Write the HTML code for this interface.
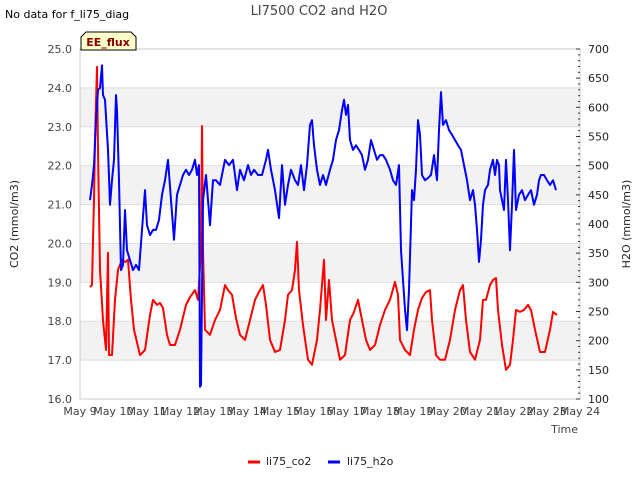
<!DOCTYPE html>
<html><head><meta charset="utf-8"><style>
body{margin:0;background:#fff;font-family:"Liberation Sans",sans-serif}
svg text{font-family:"DejaVu Sans","Liberation Sans",sans-serif}
</style></head><body>
<svg id="c" width="640" height="480" xmlns="http://www.w3.org/2000/svg">
<text x="5" y="18" font-size="11" fill="#000">No data for f_li75_diag</text>
<text x="319" y="15" font-size="13" fill="#444" text-anchor="middle">LI7500 CO2 and H2O</text>
<g id="plot"></g>
<g>
<path d="M81,50 L81,37 L86,32 L131,32 L136,37 L136,50 Z" fill="#ffffcc" stroke="#000" stroke-width="1"/>
<text x="108" y="46" font-size="11" font-weight="bold" fill="#8b0000" text-anchor="middle">EE_flux</text>
</g>
<text x="18" y="224" font-size="11" fill="#222" text-anchor="middle" transform="rotate(-90 18 224)">CO2 (mmol/m3)</text>
<text x="630" y="224" font-size="11" fill="#222" text-anchor="middle" transform="rotate(-90 630 224)">H2O (mmol/m3)</text>
<text x="578" y="433" font-size="11" fill="#444" text-anchor="end">Time</text>
<g>
<g><line x1="248" y1="462" x2="260" y2="462" stroke="#f00" stroke-width="3"/><text x="266" y="465" font-size="11" fill="#222">li75_co2</text></g>
<g><line x1="328" y1="462" x2="340" y2="462" stroke="#00f" stroke-width="3"/><text x="347" y="465" font-size="11" fill="#222">li75_h2o</text></g>
</g>
</svg>
<script>
const coTimes=[9.30,9.36,9.39,9.42,9.45,9.51,9.54,9.60,9.69,9.78,9.84,9.87,9.96,10.05,10.14,10.26,10.35,10.44,10.53,10.62,10.80,10.95,11.10,11.19,11.31,11.40,11.49,11.61,11.70,11.85,12.00,12.18,12.30,12.45,12.54,12.63,12.66,12.69,12.75,12.90,13.05,13.20,13.35,13.44,13.56,13.68,13.80,13.95,14.10,14.25,14.40,14.49,14.58,14.70,14.85,15.00,15.15,15.24,15.36,15.45,15.51,15.57,15.69,15.84,15.96,16.11,16.20,16.32,16.38,16.47,16.56,16.68,16.80,16.95,17.10,17.22,17.34,17.46,17.58,17.70,17.85,18.00,18.15,18.30,18.45,18.54,18.60,18.75,18.90,19.02,19.14,19.26,19.38,19.50,19.56,19.68,19.80,19.95,20.10,20.25,20.40,20.49,20.58,20.70,20.85,21.00,21.09,21.18,21.30,21.39,21.48,21.54,21.66,21.78,21.90,21.99,22.08,22.20,22.32,22.44,22.53,22.65,22.80,22.95,23.10,23.19,23.31];
const coValues=[18.88,18.93,20.09,21.12,22.66,24.54,22.40,19.32,18.03,17.26,19.76,17.13,17.13,18.55,19.32,19.58,19.52,19.58,18.55,17.78,17.13,17.26,18.16,18.55,18.42,18.47,18.34,17.65,17.39,17.39,17.78,18.42,18.62,18.80,18.55,19.83,23.02,19.83,17.78,17.65,18.03,18.29,18.93,18.80,18.68,18.08,17.65,17.52,18.03,18.55,18.80,18.93,18.42,17.52,17.21,17.26,18.03,18.68,18.80,19.32,20.04,18.80,17.90,17.01,16.88,17.52,18.29,19.58,18.03,19.06,18.03,17.52,17.01,17.13,18.03,18.24,18.55,18.03,17.52,17.26,17.39,17.90,18.29,18.55,19.01,18.68,17.52,17.26,17.13,17.78,18.29,18.60,18.75,18.80,18.03,17.13,17.01,17.01,17.52,18.29,18.80,18.93,18.03,17.21,17.01,17.52,18.55,18.55,18.93,19.06,19.11,18.29,17.39,16.75,16.88,17.52,18.29,18.24,18.29,18.42,18.29,17.78,17.21,17.21,17.78,18.24,18.16];
const h2oTimes=[9.30,9.36,9.42,9.48,9.54,9.60,9.66,9.69,9.75,9.84,9.90,9.96,10.02,10.08,10.11,10.17,10.23,10.29,10.35,10.41,10.50,10.59,10.68,10.77,10.86,10.95,11.01,11.10,11.19,11.28,11.37,11.46,11.55,11.64,11.73,11.82,11.91,12.00,12.09,12.18,12.27,12.36,12.45,12.51,12.57,12.60,12.63,12.69,12.78,12.90,12.99,13.08,13.20,13.35,13.47,13.59,13.71,13.80,13.92,14.04,14.13,14.22,14.34,14.46,14.58,14.64,14.73,14.85,14.97,15.06,15.15,15.24,15.33,15.45,15.54,15.63,15.72,15.81,15.90,15.96,16.02,16.11,16.20,16.29,16.38,16.50,16.59,16.68,16.77,16.86,16.92,16.98,17.04,17.10,17.19,17.28,17.37,17.46,17.55,17.64,17.73,17.82,17.91,18.00,18.09,18.18,18.30,18.39,18.48,18.57,18.63,18.69,18.75,18.81,18.87,18.96,19.02,19.08,19.14,19.20,19.26,19.35,19.44,19.53,19.62,19.71,19.77,19.83,19.89,19.98,20.07,20.16,20.25,20.34,20.43,20.52,20.61,20.70,20.79,20.85,20.91,20.97,21.03,21.09,21.15,21.24,21.30,21.39,21.45,21.51,21.57,21.60,21.66,21.72,21.78,21.84,21.90,21.96,22.02,22.08,22.17,22.26,22.35,22.44,22.53,22.62,22.71,22.77,22.83,22.92,23.01,23.10,23.19,23.28];
const h2oValues=[441,467,501,578,630,633,672,621,613,527,433,475,510,621,595,475,321,330,424,355,338,321,330,321,390,458,398,381,390,390,407,450,475,510,441,373,450,467,484,493,484,493,510,484,501,121,124,441,484,398,475,475,467,510,501,510,458,493,475,501,484,493,484,484,510,527,493,458,410,501,433,467,493,475,467,501,458,501,570,578,535,493,467,484,467,493,510,544,561,595,613,587,604,544,527,535,527,518,493,510,544,527,510,518,518,510,493,475,467,501,355,304,253,218,287,458,441,493,578,553,484,475,479,484,518,475,561,626,570,578,561,553,544,535,527,501,475,441,458,433,390,335,373,433,458,467,493,510,484,510,501,458,441,424,510,441,355,433,527,424,450,458,441,450,458,433,450,475,484,484,475,467,475,458];
const leftTicks=[16,17,18,19,20,21,22,23,24,25];
const rightTicks=[100,150,200,250,300,350,400,450,500,550,600,650,700];
const dayTicks=[9,10,11,12,13,14,15,16,17,18,19,20,21,22,23,24];

const L=80,R=580,T=49,B=399,NS='http://www.w3.org/2000/svg';
const xS=d=>L+(d-9)/15*(R-L);
const yL=v=>B-(v-16)/9*(B-T);
const yR=v=>B-(v-100)/600*(B-T);
const g=document.getElementById('plot');
function mk(t,a,p){const e=document.createElementNS(NS,t);for(const k in a)e.setAttribute(k,a[k]);(p||g).appendChild(e);return e;}
for(let v=17;v<25;v+=2){
  const r=mk('rect',{x:L,y:yL(v+1),width:R-L,height:yL(v)-yL(v+1),fill:'#f2f2f2'});
  
  
}
leftTicks.forEach(v=>{
  const l=mk('line',{x1:L,x2:R,y1:yL(v),y2:yL(v),stroke:'#ddd','stroke-width':1});
  
  
  const t=mk('text',{x:L-8,y:yL(v)+4,'font-size':11,fill:'#444','text-anchor':'end'});
  t.textContent=v.toFixed(1);
  
  
});
mk('rect',{x:L,y:T,width:R-L,height:B-T,fill:'none',stroke:'#ccc'});
for(let v=100;v<=700;v+=10){
  const major=v%50===0;
  mk('line',{x1:R,x2:R-(major?4:2),y1:yR(v),y2:yR(v),stroke:'#333'});
}
rightTicks.forEach(v=>{
  const t=mk('text',{x:R+8,y:yR(v)+4,'font-size':11,fill:'#222'});
  t.textContent=v;
  
  
});
dayTicks.forEach(d=>{
  const t=mk('text',{x:xS(d),y:B+16,'font-size':11,fill:'#444','text-anchor':'middle'});
  t.textContent='May '+d;
  
  
});
const co=mk('polyline',{points:coTimes.map((d,i)=>xS(d)+','+yL(coValues[i])).join(' '),fill:'none',stroke:'#f00','stroke-width':2,'stroke-linejoin':'round'});


const h=mk('polyline',{points:h2oTimes.map((d,i)=>xS(d)+','+yR(h2oValues[i])).join(' '),fill:'none',stroke:'#00f','stroke-width':2,'stroke-linejoin':'round'});


</script>
</body></html>
